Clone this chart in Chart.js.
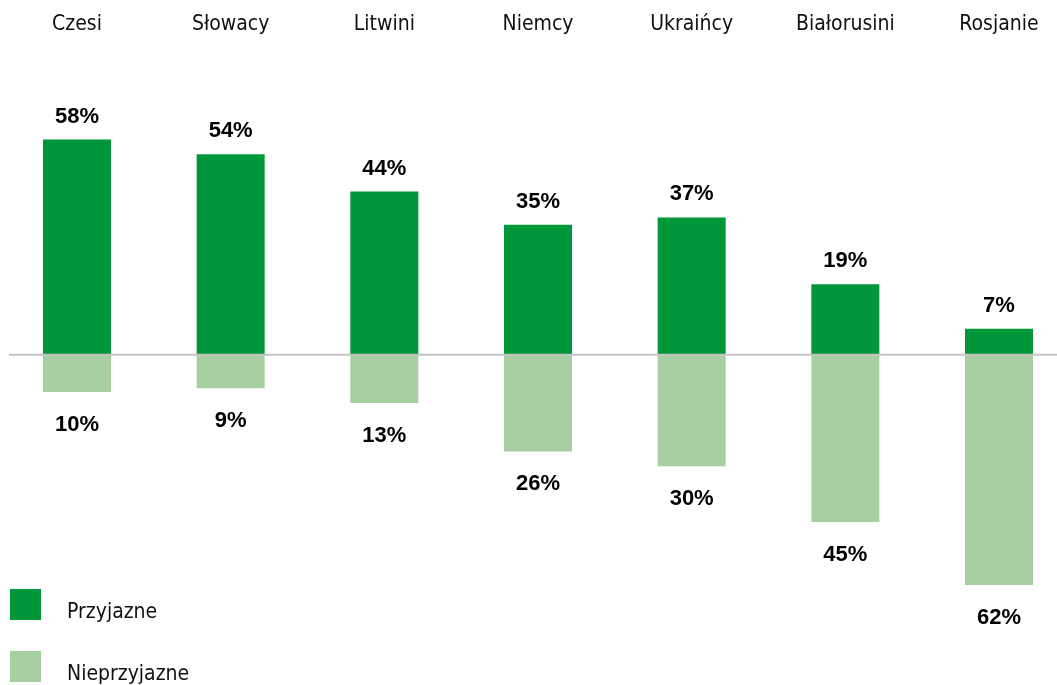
<!DOCTYPE html>
<html>
<head>
<meta charset="utf-8">
<script src="https://cdn.jsdelivr.net/npm/chart.js@4.4.0/dist/chart.umd.min.js"></script>
<style>
  html, body { margin: 0; padding: 0; background: #fff; }
  #wrap { position: relative; width: 1057px; height: 685px; }
  .leg { position: absolute; left: 10px; display: flex; align-items: flex-start;
         font-family: "Liberation Sans Narrow", "DejaVu Sans Condensed", sans-serif; font-size: 21px; color: #111; }
  .leg span.box { display: inline-block; width: 31px; height: 31px; margin-right: 26px; }
  .leg span.txt { line-height: 24px; margin-top: 10px; }
</style>
</head>
<body>
<div id="wrap">
  <canvas id="chart" width="1057" height="685"></canvas>
  <div class="leg" style="top:589px"><span class="box" style="background:#00963a"></span><span class="txt">Przyjazne</span></div>
  <div class="leg" style="top:651px"><span class="box" style="background:#a8cfa1"></span><span class="txt">Nieprzyjazne</span></div>
</div>
<script>
const categories = ['Czesi', 'Słowacy', 'Litwini', 'Niemcy', 'Ukraińcy', 'Białorusini', 'Rosjanie'];
const friendly = [58, 54, 44, 35, 37, 19, 7];
const unfriendly = [10, 9, 13, 26, 30, 45, 62];

const GREEN = '#00963a';
const LIGHT = '#a8cfa1';

// value labels above / below the bars
const valueLabels = {
  id: 'valueLabels',
  afterDatasetsDraw(chart) {
    const ctx = chart.ctx;
    ctx.save();
    ctx.font = 'bold 22px "Liberation Sans", Arial, sans-serif';
    ctx.fillStyle = '#000';
    ctx.textAlign = 'center';
    ctx.textBaseline = 'middle';
    chart.data.datasets.forEach((ds, di) => {
      chart.getDatasetMeta(di).data.forEach((bar, i) => {
        const v = Math.abs(ds.data[i]);
        const y = ds.data[i] >= 0 ? bar.y - 23 : bar.y + 33;
        ctx.fillText(v + '%', bar.x, y);
      });
    });
    ctx.restore();
  }
};

// gray zero line
const zeroLine = {
  id: 'zeroLine',
  afterDatasetsDraw(chart) {
    const y = chart.scales.y.getPixelForValue(0);
    const ctx = chart.ctx;
    ctx.save();
    ctx.strokeStyle = '#c4c4c4';
    ctx.lineWidth = 2;
    ctx.beginPath();
    ctx.moveTo(9, y);
    ctx.lineTo(chart.width, y);
    ctx.stroke();
    ctx.restore();
  }
};

new Chart(document.getElementById('chart'), {
  type: 'bar',
  data: {
    labels: categories,
    datasets: [
      { label: 'Przyjazne', data: friendly, backgroundColor: GREEN, clip: false },
      { label: 'Nieprzyjazne', data: unfriendly.map(v => -v), backgroundColor: LIGHT, clip: false }
    ]
  },
  options: {
    responsive: false,
    animation: false,
    layout: { padding: { left: 77, right: 58, top: 8, bottom: 0 } },
    plugins: { legend: { display: false }, tooltip: { enabled: false } },
    datasets: { bar: { categoryPercentage: 0.4425, barPercentage: 1 } },
    scales: {
      x: {
        position: 'top',
        stacked: true,
        offset: false,
        grid: { display: false },
        border: { display: false },
        ticks: {
          color: '#111',
          padding: 4,
          font: { family: '"Liberation Sans Narrow", "DejaVu Sans Condensed", sans-serif', size: 21 }
        }
      },
      y: {
        stacked: true,
        display: false,
        min: -88.9,
        max: 82.3
      }
    }
  },
  plugins: [valueLabels, zeroLine]
});
</script>
</body>
</html>
